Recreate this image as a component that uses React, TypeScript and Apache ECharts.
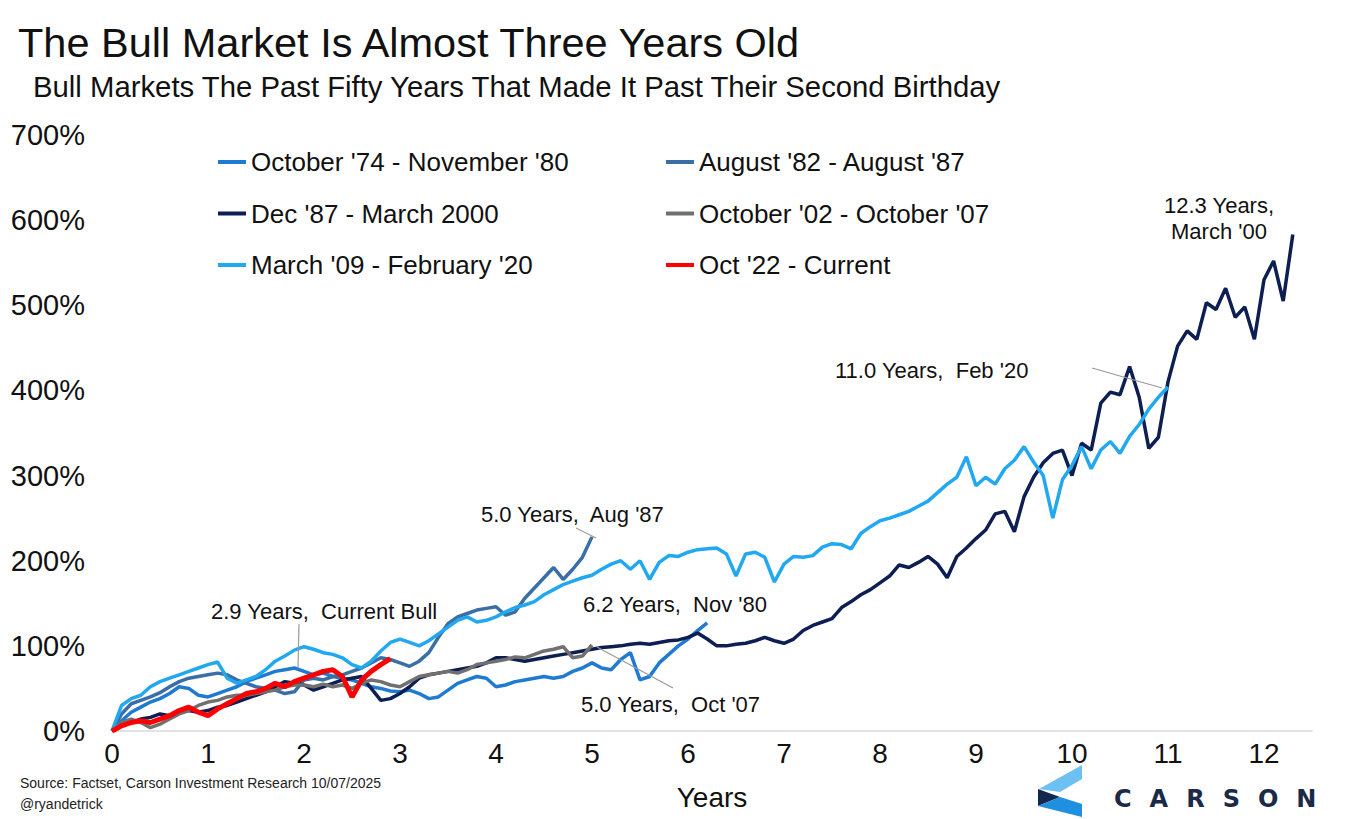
import React, { useEffect, useRef } from "react";
import * as echarts from "echarts";

// ---------------- data ----------------
const STEP = 0.1; // years between consecutive values
const X_TICKS = [0, 1, 2, 3, 4, 5, 6, 7, 8, 9, 10, 11, 12];
const Y_TICKS = [0, 100, 200, 300, 400, 500, 600, 700];

const SERIES_NAMES = [
  "October '74 - November '80",
  "August '82 - August '87",
  "Dec '87 - March 2000",
  "October '02 - October '07",
  "March '09 - February '20",
  "Oct '22 - Current",
];
const SERIES_COLORS = ["#1f7bd1", "#3a6ea6", "#0d1f52", "#707070", "#22a8f0", "#ff0000"];

const oct74 = [
  0, 12, 22, 28, 34, 38, 44, 52, 50, 42,
  40, 44, 48, 52, 58, 62, 66, 70, 72, 74,
  70, 66, 68, 64, 62, 60, 56, 52, 50, 47,
  46, 48, 44, 38, 40, 48, 56, 60, 64, 62,
  52, 54, 58, 60, 62, 64, 62, 64, 70, 74,
  80, 74, 72, 84, 92, 60, 64, 80, 90, 100,
  108, 118, 127,
];
const aug82 = [
  0, 20, 32, 36, 40, 45, 52, 58, 62, 64,
  66, 68, 66, 60, 56, 52, 50, 48, 44, 46,
  60, 62, 60, 64, 66, 70, 74, 80, 86, 84,
  80, 76, 82, 92, 110, 126, 134, 138, 142, 144,
  146, 136, 140, 156, 168, 180, 192, 178, 190, 204,
  228,
];
const dec87 = [
  0, 6, 10, 14, 16, 20, 18, 22, 24, 22,
  24, 28, 30, 34, 38, 42, 46, 52, 58, 56,
  54, 48, 52, 56, 60, 62, 64, 50, 36, 38,
  44, 52, 62, 66, 68, 70, 72, 74, 76, 80,
  86, 86, 84, 82, 84, 86, 88, 90, 92, 94,
  96, 98, 99, 100, 102, 103, 102, 104, 106, 107,
  110, 115, 108, 100, 100, 102, 103, 106, 110, 106,
  103, 108, 118, 124, 128, 132, 145, 152, 160, 166,
  174, 182, 195, 192, 198, 205, 196, 180, 205, 215,
  226, 236, 255, 258, 234, 275, 298, 315, 326, 330,
  300, 338, 330, 385, 398, 395, 428, 392, 332, 345,
  410, 452, 470, 460, 503, 495, 520, 486, 498, 460,
  530, 552, 505, 583,
];
const oct02 = [
  0, 10, 14, 10, 4, 8, 14, 20, 24, 30,
  34, 36, 40, 42, 42, 44, 46, 48, 52, 54,
  54, 52, 55, 52, 54, 50, 56, 60, 58, 54,
  52, 58, 64, 66, 68, 70, 68, 72, 78, 80,
  82, 84, 87, 86, 90, 94, 96, 99, 86, 88,
  101,
];
const mar09 = [
  0, 30, 38, 42, 52, 58, 62, 66, 70, 74,
  78, 81, 62, 56, 60, 64, 72, 82, 88, 95,
  99, 96, 92, 90, 86, 78, 74, 82, 94, 104,
  108, 104, 100, 106, 114, 122, 130, 134, 128, 130,
  134, 140, 145, 148, 152, 160, 166, 172, 176, 180,
  183, 190, 196, 200, 190, 200, 178, 198, 206, 205,
  210, 213, 214, 215, 208, 182, 208, 210, 204, 175,
  196, 205, 204, 206, 216, 220, 219, 214, 232, 240,
  247, 250, 254, 258, 264, 270, 280, 290, 298, 322,
  288, 298, 290, 308, 318, 334, 316, 300, 250, 295,
  312, 334, 308, 330, 340, 326, 346, 360, 378, 392,
  404,
];
const oct22 = [
  0, 6, 10, 12, 10, 14, 18, 24, 28, 22,
  18, 26, 32, 38, 44, 46, 50, 56, 52, 58,
  62, 66, 70, 72, 64, 40, 60, 70, 78, 85,
];
const SERIES_VALUES = [oct74, aug82, dec87, oct02, mar09, oct22];

const TITLE = "The Bull Market Is Almost Three Years Old";
const SUBTITLE = "Bull Markets The Past Fifty Years That Made It Past Their Second Birthday";
const SOURCE = "Source: Factset, Carson Investment Research 10/07/2025";
const HANDLE = "@ryandetrick";

const FONT = '"Liberation Sans", Arial, Helvetica, sans-serif';

export default function App() {
  const ref = useRef<HTMLDivElement>(null);

  useEffect(() => {
    document.body.style.margin = "0";
    if (!ref.current) return;
    const chart = echarts.init(ref.current, null, { renderer: "svg" });

    const series = SERIES_VALUES.map((vals, si) => ({
      name: SERIES_NAMES[si],
      type: "line",
      data: vals.map((v, i) => [Math.round(i * STEP * 10) / 10, v]),
      showSymbol: false,
      symbol: "none",
      lineStyle: { color: SERIES_COLORS[si], width: si === 5 ? 5 : 3.5 },
      itemStyle: { color: SERIES_COLORS[si] },
      z: 2 + si,
      silent: true,
    }));

    const legendCommon = {
      orient: "vertical",
      top: 142,
      itemGap: 21.5,
      itemWidth: 28,
      itemHeight: 4,
      icon: "rect",
      textStyle: { fontSize: 26, lineHeight: 30, color: "#111", fontFamily: FONT },
    };

    const text = (t: string, x: number, y: number, size: number, extra: any = {}) => ({
      type: "text",
      x,
      y,
      silent: true,
      style: {
        text: t,
        fill: "#111",
        fontSize: size,
        fontFamily: FONT,
        verticalAlign: "middle",
        align: "left",
        ...extra,
      },
    });
    const leader = (x1: number, y1: number, x2: number, y2: number) => ({
      type: "line",
      silent: true,
      shape: { x1, y1, x2, y2 },
      style: { stroke: "#9a9a9a", lineWidth: 1.2 },
      z: 20,
    });

    chart.setOption({
      animation: false,
      backgroundColor: "#ffffff",
      textStyle: { fontFamily: FONT },
      grid: { left: 112, right: 39, top: 135, bottom: 88, containLabel: false },
      xAxis: {
        type: "value",
        min: 0,
        max: 12.5,
        interval: 1,
        name: "Years",
        nameLocation: "middle",
        nameGap: 52,
        nameTextStyle: { fontSize: 28, color: "#111", fontFamily: FONT },
        axisLine: { show: true, lineStyle: { color: "#d9d9d9", width: 1.5 } },
        axisTick: { show: false },
        splitLine: { show: false },
        axisLabel: {
          fontSize: 28,
          color: "#111",
          margin: 8,
          fontFamily: FONT,
          formatter: (v: number) => (X_TICKS.includes(v) ? String(v) : ""),
        },
      },
      yAxis: {
        type: "value",
        min: Y_TICKS[0],
        max: Y_TICKS[Y_TICKS.length - 1],
        interval: 100,
        axisLine: { show: false },
        axisTick: { show: false },
        splitLine: { show: false },
        axisLabel: {
          fontSize: 29,
          color: "#111",
          margin: 27,
          fontFamily: FONT,
          formatter: (v: number) => `${v}%`,
        },
      },
      legend: [
        { ...legendCommon, left: 213, data: [SERIES_NAMES[0], SERIES_NAMES[2], SERIES_NAMES[4]] },
        { ...legendCommon, left: 661, data: [SERIES_NAMES[1], SERIES_NAMES[3], SERIES_NAMES[5]] },
      ],
      series,
      graphic: [
        text(TITLE, 18, 42, 41.5),
        text(SUBTITLE, 33, 86, 29.3),
        // annotations
        text("2.9 Years,  Current Bull", 211, 611, 22),
        leader(299, 624, 298, 668),
        text("5.0 Years,  Aug '87", 481, 514, 22),
        leader(576, 528, 596, 538),
        text("6.2 Years,  Nov '80", 583, 604, 22),
        text("5.0 Years,  Oct '07", 581, 704, 22),
        leader(597, 647, 673, 688),
        text("11.0 Years,  Feb '20", 835, 370, 22),
        leader(1092, 368, 1162, 388),
        text("12.3 Years,\nMarch '00", 1219, 218, 22, { align: "center", lineHeight: 26 }),
        // source
        text(SOURCE, 20, 783, 14, { fill: "#222" }),
        text(HANDLE, 20, 804, 14, { fill: "#222" }),
        // logo chevron
        {
          type: "polygon",
          silent: true,
          shape: { points: [[1039, 789], [1082, 765], [1082, 779], [1060, 792]] },
          style: { fill: "#6cc0f2" },
        },
        {
          type: "polygon",
          silent: true,
          shape: { points: [[1038, 789], [1060, 797], [1038, 806]] },
          style: { fill: "#13284f" },
        },
        {
          type: "polygon",
          silent: true,
          shape: { points: [[1038, 806], [1060, 797], [1082, 804], [1082, 817]] },
          style: { fill: "#1f8fe0" },
        },
      ],
    });

    return () => chart.dispose();
  }, []);

  return (
    <div style={{ position: "relative", width: 1351, height: 819, background: "#fff" }}>
      <div ref={ref} style={{ width: 1351, height: 819 }} />
      <div
        style={{
          position: "absolute",
          left: 1114,
          top: 786,
          fontFamily: '"DejaVu Sans", sans-serif',
          fontWeight: "bold",
          fontSize: 24,
          lineHeight: "26px",
          letterSpacing: 18,
          color: "#1b2a47",
        }}
      >
        CARSON
      </div>
    </div>
  );
}
